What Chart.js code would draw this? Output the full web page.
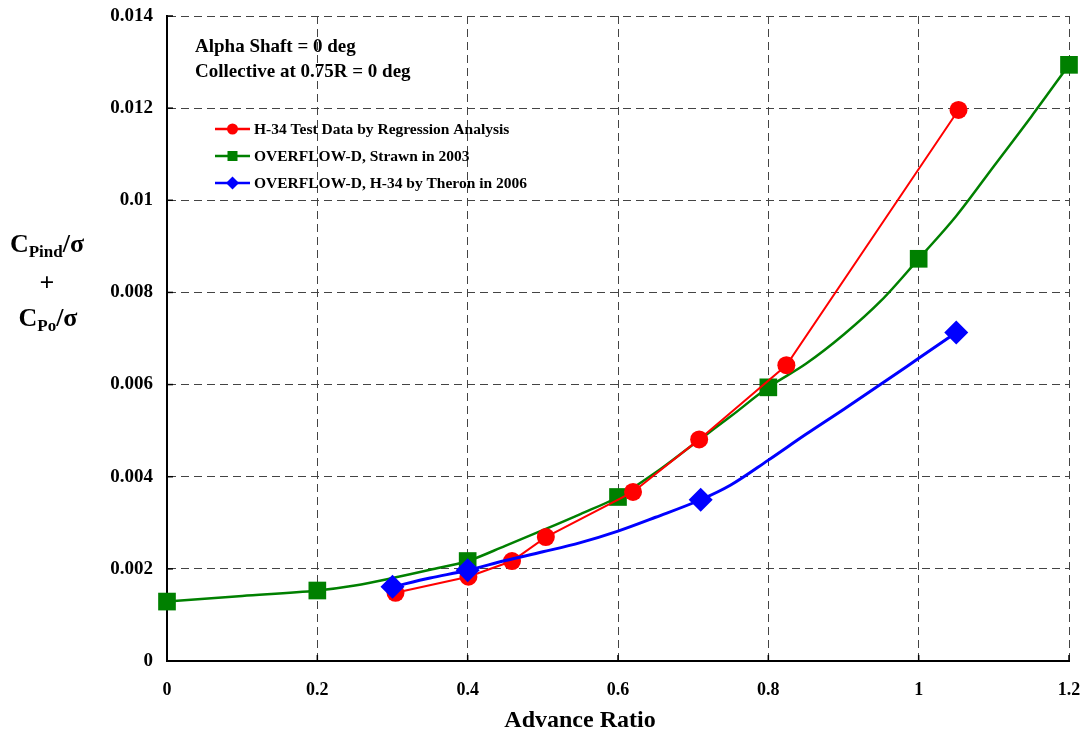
<!DOCTYPE html>
<html><head><meta charset="utf-8">
<script src="https://cdn.jsdelivr.net/npm/chart.js@4.4.1/dist/chart.umd.min.js"></script>
<style>html,body{margin:0;padding:0;background:#fff;}#wrap{width:1083px;height:730px;}</style>
</head><body><div id="wrap"><canvas id="c" width="1083" height="730"></canvas></div>
<script>
// ---- data ----
const xTickLabels = ['0','0.2','0.4','0.6','0.8','1','1.2'];
const yTickLabels = ['0','0.002','0.004','0.006','0.008','0.01','0.012','0.014'];
const seriesNames = ['H-34 Test Data by Regression Analysis','OVERFLOW-D, Strawn in 2003','OVERFLOW-D, H-34 by Theron in 2006'];
const notes = ['Alpha Shaft = 0 deg','Collective at 0.75R = 0 deg'];
const xTitle = 'Advance Ratio';

const redX = [0.304, 0.401, 0.459, 0.504, 0.620, 0.708, 0.824, 1.053];
const redY = [0.00148, 0.00183, 0.00217, 0.00269, 0.00367, 0.00481, 0.00642, 0.01196];

const greenMarkX = [0, 0.2, 0.4, 0.6, 0.8, 1.0, 1.2];
const greenMarkY = [0.00129, 0.00153, 0.00217, 0.00356, 0.00594, 0.00873, 0.01294];
const greenCurveX = [0, 0.1, 0.2, 0.25, 0.3, 0.35, 0.4, 0.45, 0.5, 0.55, 0.6, 0.65, 0.7, 0.75, 0.8, 0.85, 0.9, 0.95, 1.0, 1.05, 1.1, 1.15, 1.2];
const greenCurveY = [0.00129, 0.00141, 0.00153, 0.00164, 0.00180, 0.00198, 0.00217, 0.00250, 0.00284, 0.00319, 0.00356, 0.00409, 0.00470, 0.00531, 0.00594, 0.00645, 0.00708, 0.00782, 0.00873, 0.00966, 0.01074, 0.01182, 0.01294];

const blueMarkX = [0.30, 0.40, 0.71, 1.05];
const blueMarkY = [0.00161, 0.00197, 0.00350, 0.00713];
const blueCurveX = [0.3, 0.35, 0.4, 0.45, 0.5, 0.55, 0.6, 0.65, 0.71, 0.75, 0.8, 0.85, 0.9, 0.95, 1.0, 1.05];
const blueCurveY = [0.00161, 0.00180, 0.00197, 0.00218, 0.00237, 0.00257, 0.00282, 0.00312, 0.00350, 0.00382, 0.00436, 0.00492, 0.00546, 0.00601, 0.00657, 0.00713];

// ---- build ----
const pts = (xs, ys) => xs.map((x, i) => ({x: x, y: ys[i]}));
const xTickVals = xTickLabels.map(Number);
const yTickVals = yTickLabels.map(Number);
const FONT = 'Liberation Serif';
const RED = '#ff0000', GREEN = '#008000', BLUE = '#0000ff';

const datasets = [
  {label: seriesNames[2], data: pts(blueMarkX, blueMarkY), showLine: false, pointStyle: 'rectRot', pointRadius: 12, backgroundColor: BLUE, borderColor: BLUE, borderWidth: 0, order: 1, clip: false},
  {label: seriesNames[2] + ' curve', data: pts(blueCurveX, blueCurveY), showLine: true, pointRadius: 0, borderColor: BLUE, borderWidth: 3, cubicInterpolationMode: 'monotone', order: 2},
  {label: seriesNames[0], data: pts(redX, redY), showLine: true, pointStyle: 'circle', pointRadius: 9, backgroundColor: RED, borderColor: RED, pointBorderWidth: 0, borderWidth: 2, tension: 0, order: 3, clip: false},
  {label: seriesNames[1], data: pts(greenMarkX, greenMarkY), showLine: false, pointStyle: 'rect', pointRadius: 12.5, backgroundColor: GREEN, borderColor: GREEN, borderWidth: 0, order: 4, clip: false},
  {label: seriesNames[1] + ' curve', data: pts(greenCurveX, greenCurveY), showLine: true, pointRadius: 0, borderColor: GREEN, borderWidth: 2.5, cubicInterpolationMode: 'monotone', order: 5}
];

const legendItems = [
  {name: seriesNames[0], color: RED, style: 'circle'},
  {name: seriesNames[1], color: GREEN, style: 'rect'},
  {name: seriesNames[2], color: BLUE, style: 'diamond'}
];

const decor = {
  id: 'decor',
  afterDraw(chart) {
    const ctx = chart.ctx, xs = chart.scales.x, ys = chart.scales.y, a = chart.chartArea;
    ctx.save();
    // inward tick marks
    ctx.strokeStyle = '#000'; ctx.lineWidth = 1.5; ctx.setLineDash([]);
    xTickVals.forEach(v => { const px = xs.getPixelForValue(v); ctx.beginPath(); ctx.moveTo(px, a.bottom); ctx.lineTo(px, a.bottom - 6); ctx.stroke(); });
    yTickVals.forEach(v => { const py = ys.getPixelForValue(v); ctx.beginPath(); ctx.moveTo(a.left, py); ctx.lineTo(a.left + 6, py); ctx.stroke(); });
    // notes
    ctx.fillStyle = '#000'; ctx.textAlign = 'left'; ctx.textBaseline = 'alphabetic';
    ctx.font = 'bold 19px "' + FONT + '"';
    ctx.fillText(notes[0], 195, 52);
    ctx.fillText(notes[1], 195, 77);
    // legend
    const rows = [129, 156, 183];
    legendItems.forEach((it, i) => {
      const y = rows[i];
      ctx.strokeStyle = it.color; ctx.lineWidth = 2.5;
      ctx.beginPath(); ctx.moveTo(215, y); ctx.lineTo(250, y); ctx.stroke();
      ctx.fillStyle = it.color; ctx.beginPath();
      const cx = 232.5;
      if (it.style === 'circle') ctx.arc(cx, y, 5.5, 0, Math.PI * 2);
      else if (it.style === 'rect') ctx.rect(cx - 5, y - 5, 10, 10);
      else { ctx.moveTo(cx, y - 6.5); ctx.lineTo(cx + 6.5, y); ctx.lineTo(cx, y + 6.5); ctx.lineTo(cx - 6.5, y); ctx.closePath(); }
      ctx.fill();
      ctx.fillStyle = '#000'; ctx.font = 'bold 15.5px "' + FONT + '"'; ctx.textBaseline = 'middle';
      ctx.fillText(it.name, 254, y + 1);
    });
    // x title
    ctx.textBaseline = 'alphabetic'; ctx.textAlign = 'center'; ctx.fillStyle = '#000';
    ctx.font = 'bold 24px "' + FONT + '"';
    ctx.fillText(xTitle, 580, 727);
    // y title with subscripts
    const drawSub = (sub, cx, base) => {
      const big = 'bold 26px "' + FONT + '"', small = 'bold 17px "' + FONT + '"';
      ctx.font = big; const wC = ctx.measureText('C').width; const wS2 = ctx.measureText('/σ').width;
      ctx.font = small; const wSub = ctx.measureText(sub).width;
      let x = cx - (wC + wSub + wS2) / 2;
      ctx.textAlign = 'left';
      ctx.font = big; ctx.fillText('C', x, base); x += wC;
      ctx.font = small; ctx.fillText(sub, x, base + 5); x += wSub;
      ctx.font = big; ctx.fillText('/σ', x, base);
    };
    drawSub('Pind', 47, 252);
    ctx.font = 'bold 26px "' + FONT + '"'; ctx.textAlign = 'center';
    ctx.fillText('+', 47, 291);
    drawSub('Po', 48, 326);
    ctx.restore();
  }
};

const zeroPad = s => { s.paddingLeft = 0; s.paddingRight = 0; s.paddingTop = 0; s.paddingBottom = 0; };

new Chart(document.getElementById('c'), {
  type: 'scatter',
  data: {datasets: datasets},
  options: {
    responsive: false, animation: false, devicePixelRatio: 1,
    layout: {padding: {top: 16, right: 14, left: 0, bottom: 0}},
    plugins: {legend: {display: false}, tooltip: {enabled: false}},
    scales: {
      x: {
        type: 'linear', min: 0, max: 1.2,
        afterBuildTicks: s => { s.ticks = xTickVals.map(v => ({value: v})); },
        afterFit: s => { s.height = 69; zeroPad(s); },
        ticks: {callback: (v, i) => xTickLabels[i], autoSkip: false, maxRotation: 0, color: '#000', padding: 19,
                font: {family: FONT, size: 18, weight: 'bold'}},
        grid: {color: '#444', lineWidth: 1, drawTicks: false},
        border: {display: true, color: '#000', width: 2, dash: [8, 5]}
      },
      y: {
        type: 'linear', min: 0, max: 0.014,
        afterBuildTicks: s => { s.ticks = yTickVals.map(v => ({value: v})); },
        afterFit: s => { s.width = 167; zeroPad(s); },
        ticks: {callback: (v, i) => yTickLabels[i], autoSkip: false, color: '#000', padding: 14,
                font: {family: FONT, size: 19, weight: 'bold'}},
        grid: {color: '#444', lineWidth: 1, drawTicks: false},
        border: {display: true, color: '#000', width: 2, dash: [8, 5]}
      }
    }
  },
  plugins: [decor]
});
</script></body></html>
